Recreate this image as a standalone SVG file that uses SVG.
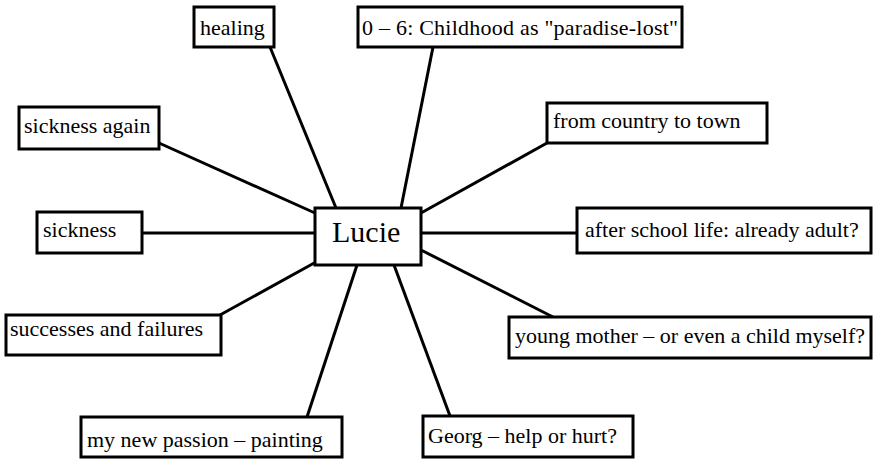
<svg xmlns="http://www.w3.org/2000/svg" width="873" height="459" viewBox="0 0 873 459">
<style>
rect{fill:#fff;stroke:#000;stroke-width:3}
text{font-size:22px;fill:#000}
#connectors line{stroke:#000;stroke-width:3}
</style>
<rect x="0" y="0" width="873" height="459" style="stroke:none"/>
<g id="connectors">
<line x1="270" y1="47" x2="336" y2="208"/>
<line x1="433" y1="47" x2="401" y2="208"/>
<line x1="159" y1="143" x2="315" y2="213"/>
<line x1="142" y1="233" x2="315" y2="233"/>
<line x1="220" y1="315" x2="316" y2="262"/>
<line x1="307" y1="417" x2="357" y2="265"/>
<line x1="450" y1="416" x2="394" y2="265"/>
<line x1="553" y1="317" x2="421" y2="250"/>
<line x1="577" y1="233" x2="421" y2="233"/>
<line x1="547" y1="143" x2="421" y2="213"/>
</g>
<g font-family="Liberation Serif, serif">
<g id="lucie"><rect x="315" y="208" width="106" height="57"/><text x="332" y="242" style="font-size:30px">Lucie</text></g>
<g id="healing"><rect x="194" y="7" width="80" height="40"/><text x="200" y="35">healing</text></g>
<g id="childhood"><rect x="358" y="7" width="324" height="40"/><text x="362" y="35" textLength="316" lengthAdjust="spacing">0 – 6: Childhood as "paradise-lost"</text></g>
<g id="sickness-again"><rect x="19" y="107" width="140" height="42"/><text x="24" y="133">sickness again</text></g>
<g id="sickness"><rect x="37" y="212" width="105" height="41"/><text x="43" y="237">sickness</text></g>
<g id="successes"><rect x="6" y="315" width="215" height="40"/><text x="10" y="336">successes and failures</text></g>
<g id="painting"><rect x="81" y="417" width="261" height="40"/><text x="87" y="447">my new passion – painting</text></g>
<g id="georg"><rect x="423" y="416" width="210" height="41"/><text x="428" y="443">Georg – help or hurt?</text></g>
<g id="young-mother"><rect x="509" y="317" width="362" height="41"/><text x="515" y="343">young mother – or even a child myself?</text></g>
<g id="after-school"><rect x="577" y="208" width="294" height="45"/><text x="585" y="237">after school life: already adult?</text></g>
<g id="country"><rect x="547" y="103" width="220" height="40"/><text x="553" y="128">from country to town</text></g>
</g>
</svg>
